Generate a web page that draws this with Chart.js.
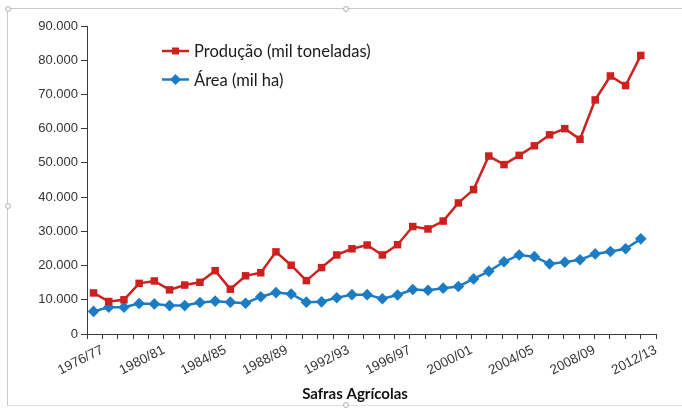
<!DOCTYPE html>
<html>
<head>
<meta charset="utf-8">
<script src="https://cdn.jsdelivr.net/npm/chart.js@4.4.0/dist/chart.umd.min.js"></script>
<style>
  html, body { margin: 0; padding: 0; background: #fff; }
  #wrap { position: relative; width: 682px; height: 408px; }
  #frame { position: absolute; left: 7px; top: 8px; width: 680px; height: 396px;
           border-top: 1px solid #c9c9c9; border-left: 1px solid #c9c9c9; border-bottom: 1px solid #e2e2e2; pointer-events: none; }
  .h { position: absolute; width: 4px; height: 4px; border: 1px solid #b0b0b0; border-radius: 50%; background: #fff; }
</style>
</head>
<body>
<div id="wrap">
  <canvas id="c" width="682" height="408"></canvas>
  <div id="frame"></div>
  <div class="h" style="left:5px;top:6px"></div>
  <div class="h" style="left:343px;top:6px"></div>
  <div class="h" style="left:5px;top:203px"></div>
  <div class="h" style="left:343px;top:402px"></div>
</div>
<script>
const seasons = ['1976/77','1977/78','1978/79','1979/80','1980/81','1981/82','1982/83','1983/84','1984/85','1985/86',
  '1986/87','1987/88','1988/89','1989/90','1990/91','1991/92','1992/93','1993/94','1994/95','1995/96',
  '1996/97','1997/98','1998/99','1999/00','2000/01','2001/02','2002/03','2003/04','2004/05','2005/06',
  '2006/07','2007/08','2008/09','2009/10','2010/11','2011/12','2012/13'];
const shownSeasons = ['1976/77','1980/81','1984/85','1988/89','1992/93','1996/97','2000/01','2004/05','2008/09','2012/13'];
const producao = [12000, 9500, 10000, 14800, 15500, 12900, 14300, 15100, 18500, 13100,
  17000, 17900, 24000, 20100, 15600, 19400, 23100, 24900, 26000, 23100,
  26100, 31400, 30700, 33000, 38300, 42200, 52000, 49500, 52200, 55000,
  58200, 60000, 56900, 68400, 75400, 72600, 81400];
const area = [6600, 7800, 7800, 8900, 8800, 8300, 8300, 9200, 9600, 9300,
  9000, 10900, 12100, 11700, 9300, 9400, 10600, 11500, 11500, 10300,
  11400, 13000, 12800, 13400, 13900, 16100, 18300, 21100, 23100, 22600,
  20500, 21000, 21700, 23400, 24100, 24900, 27800];
const yTickLabels = ['0','10.000','20.000','30.000','40.000','50.000','60.000','70.000','80.000','90.000'];
const seriesNames = ['Produção (mil toneladas)', 'Área (mil ha)'];
const xTitle = 'Safras Agrícolas';

const RED = '#cd211f';
const BLUE = '#1b7cc3';
const AXIS = '#3a3a3a';

const X_MIN = -0.43, X_MAX = 37;
const N_TICKS = seasons.length;
const tickStep = (X_MAX - X_MIN) / N_TICKS;

const legendPlugin = {
  id: 'insideLegend',
  afterDraw(chart) {
    const ctx = chart.ctx;
    const ca = chart.chartArea;
    const x0 = ca.left + 75, x1 = ca.left + 102;
    const ys = [ca.top + 25, ca.top + 53.5];
    chart.data.datasets.forEach((ds, i) => {
      const y = ys[i];
      ctx.save();
      ctx.strokeStyle = ds.borderColor;
      ctx.lineWidth = 2.5;
      ctx.beginPath(); ctx.moveTo(x0, y); ctx.lineTo(x1, y); ctx.stroke();
      ctx.fillStyle = ds.pointBackgroundColor;
      const cx = (x0 + x1) / 2;
      ctx.beginPath();
      if (ds.pointStyle === 'rect') {
        ctx.rect(cx - 3.5, y - 3.5, 7, 7);
      } else {
        ctx.moveTo(cx, y - 5.5); ctx.lineTo(cx + 5.5, y); ctx.lineTo(cx, y + 5.5); ctx.lineTo(cx - 5.5, y); ctx.closePath();
      }
      ctx.fill();
      ctx.fillStyle = '#1a1a1a';
      ctx.font = '16.5px Lato';
      ctx.textBaseline = 'middle';
      ctx.textAlign = 'left';
      ctx.fillText(ds.label, x1 + 5, y + 1);
      ctx.restore();
    });
    ctx.save();
    ctx.fillStyle = '#111';
    ctx.font = 'bold 15px Lato';
    ctx.textAlign = 'center';
    ctx.textBaseline = 'alphabetic';
    ctx.fillText(xTitle, 355, 399);
    ctx.restore();
  }
};

new Chart(document.getElementById('c'), {
  type: 'line',
  data: {
    datasets: [
      {
        label: seriesNames[0],
        data: producao.map((v, i) => ({x: i, y: v})),
        borderColor: RED, backgroundColor: RED,
        pointBackgroundColor: RED, pointBorderColor: RED,
        pointStyle: 'rect', pointRadius: 5.3, pointBorderWidth: 0,
        borderWidth: 2.5, tension: 0
      },
      {
        label: seriesNames[1],
        data: area.map((v, i) => ({x: i, y: v})),
        borderColor: BLUE, backgroundColor: BLUE,
        pointBackgroundColor: BLUE, pointBorderColor: BLUE,
        pointStyle: 'rectRot', pointRadius: 5.8, pointBorderWidth: 0,
        borderWidth: 2.5, tension: 0
      }
    ]
  },
  options: {
    responsive: false,
    animation: false,
    devicePixelRatio: 1,
    layout: { padding: { top: 26, right: 26, left: 0, bottom: 0 } },
    plugins: { legend: { display: false }, tooltip: { enabled: false } },
    scales: {
      x: {
        type: 'linear',
        min: X_MIN, max: X_MAX,
        afterBuildTicks(scale) {
          const t = [];
          for (let k = 0; k <= N_TICKS; k++) t.push({value: X_MIN + k * tickStep});
          scale.ticks = t;
        },
        afterFit(scale) { scale.height = 74; },
        border: { display: true, color: AXIS, width: 1 },
        grid: { drawOnChartArea: false, drawTicks: true, tickLength: 5, color: AXIS },
        ticks: {
          autoSkip: false, minRotation: 27, maxRotation: 27, padding: 3,
          color: '#333', font: { family: 'Liberation Sans', size: 13.5 },
          callback(v, idx) {
            const s = seasons[idx - 1];
            return (s && shownSeasons.includes(s)) ? s : '';
          }
        },
        title: { display: false }
      },
      y: {
        min: 0, max: 90000,
        afterFit(scale) { scale.width = 87; },
        border: { display: true, color: AXIS, width: 1 },
        grid: { drawOnChartArea: false, drawTicks: true, tickLength: 6, color: AXIS },
        ticks: {
          stepSize: 10000, padding: 3,
          color: '#333', font: { family: 'Liberation Sans', size: 13 },
          callback(v) { return yTickLabels[Math.round(v / 10000)]; }
        }
      }
    }
  },
  plugins: [legendPlugin]
});
</script>
</body>
</html>
